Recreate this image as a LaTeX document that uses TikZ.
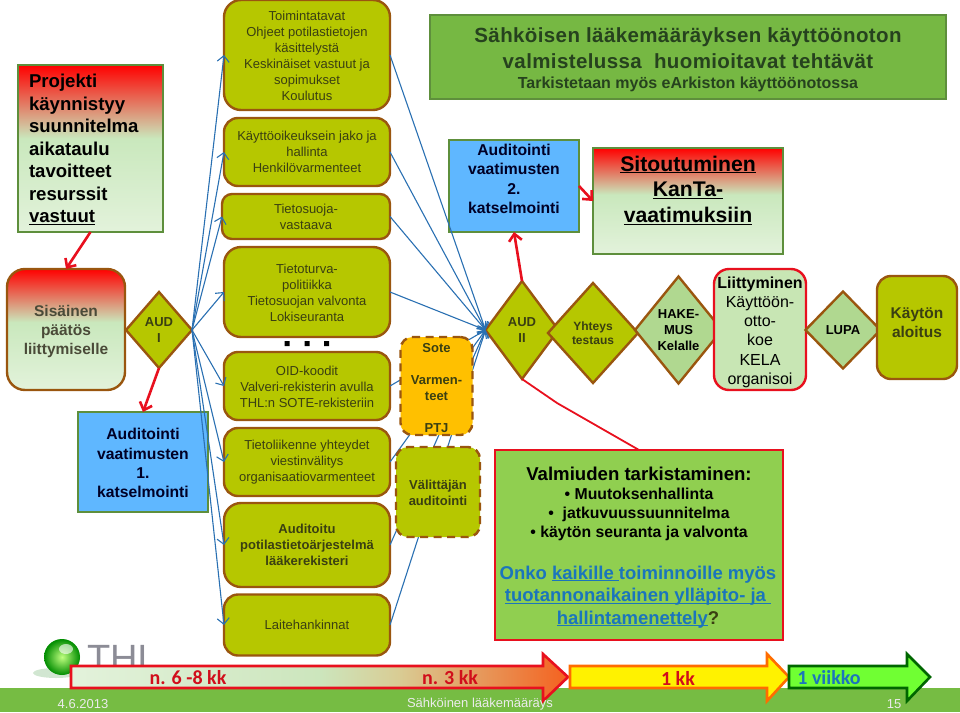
\documentclass[tikz,border=0pt]{standalone}
\usepackage{fontspec}
\setmainfont{Liberation Sans}
\newfontfamily\barfont{Carlito}
\newfontfamily\spaced[LetterSpace=1.9]{Liberation Sans}
\usetikzlibrary{shapes.geometric,arrows.meta}
\definecolor{olivef}{HTML}{B6C700}
\definecolor{brownb}{HTML}{9A560F}
\definecolor{greenb}{HTML}{5E8F3C}
\definecolor{bluef}{HTML}{5FB7FF}
\definecolor{topf}{HTML}{76B843}
\definecolor{linkb}{HTML}{2A70B2}
\definecolor{redl}{HTML}{E8101E}
\definecolor{darkt}{HTML}{3A3F12}
\definecolor{sist}{HTML}{4A4A38}
\definecolor{toptxt}{HTML}{26421E}
\definecolor{diag}{HTML}{B0D890}
\definecolor{liif}{HTML}{C8E6B4}
\definecolor{foot}{HTML}{76BC43}
\definecolor{valm}{HTML}{90CF50}
\definecolor{bluet}{HTML}{1B75BC}
\definecolor{sotef}{HTML}{FFC000}
\definecolor{thig}{HTML}{8C8C96}
\pgfdeclareverticalshading{redgreen}{100bp}{rgb(0bp)=(0.89,0.95,0.86); rgb(25bp)=(0.89,0.95,0.86); rgb(53bp)=(0.79,0.91,0.74); rgb(75bp)=(1,0,0); rgb(100bp)=(1,0,0)}
\pgfdeclarehorizontalshading{barshade}{100bp}{rgb(0bp)=(0.89,0.95,0.86); rgb(25bp)=(0.89,0.95,0.86); rgb(50bp)=(0.80,0.90,0.74); rgb(58bp)=(0.85,0.80,0.58); rgb(75bp)=(0.96,0.38,0.12); rgb(100bp)=(0.96,0.38,0.12)}
\newcommand\ulx[1]{\leavevmode\setbox0\hbox{#1}\rlap{\rule[-2.2pt]{\wd0}{1pt}}\box0}
\newcommand\fs[2]{\fontsize{#1}{#2}\selectfont}
\tikzset{
  x=1pt,y=-1pt,
  boxn/.style={inner sep=0pt,outer sep=0pt,align=center,anchor=center},
  olivebox/.style={boxn,rectangle,rounded corners=14pt,draw=brownb,line width=2.4pt,fill=olivef,text=darkt,font=\fs{13}{16}},
  blueb/.style={boxn,rectangle,draw=greenb,line width=2.4pt,fill=bluef,text=black!85!blue,font=\fs{15.7}{19.3}\bfseries},
  gradb/.style={boxn,rectangle,draw=greenb,line width=2.4pt,shade,shading=redgreen},
  dashb/.style={olivebox,dash pattern=on 8pt off 5.5pt,rounded corners=12pt,font=\fs{13}{16}\bfseries},
  dia/.style={boxn,diamond,aspect=1,draw=brownb,line width=2.4pt,fill=olivef},
  dtext/.style={align=center,inner sep=0pt,text=darkt,font=\fs{13}{16}\bfseries},
  link/.style={draw=linkb,line width=1.1pt,-{Straight Barb[length=6pt,width=12pt]}},
  redarrow/.style={draw=redl,line width=2.6pt,-{Straight Barb[length=7pt,width=13pt]}},
  barlabel/.style={inner sep=0pt,font=\barfont\fs{20}{22}\bfseries}
}
\begin{document}
\begin{tikzpicture}
\useasboundingbox (0,0) rectangle (960,712);
% footer and logo
\fill[foot] (0,688) rectangle (960,712);
\fill[green!45!black!18!white] (56,673) ellipse [x radius=23pt,y radius=5pt];
\shade[inner color=green!50!yellow!50!white,outer color=green!55!black] (62,657) circle [radius=18pt];
\fill[white,opacity=.6] (66,649) ellipse [x radius=7pt,y radius=5pt];
\node[inner sep=0pt,anchor=base west,text=thig,font=\fs{38}{40}] (thi) at (87,671) {THI};
% left column
\node[gradb,minimum width=145pt,minimum height=167pt,text=black,font=\fs{18.6}{22.5}\bfseries,text width=123pt,align=left] (proj) at (90.5,148.5) {\rule{0pt}{16pt}Projekti\\käynnistyy\\suunnitelma\\aikataulu\\tavoitteet\\resurssit\\\ulx{vastuut}};
\node[gradb,rounded corners=18pt,draw=brownb,minimum width=118pt,minimum height=121pt,text=sist,font=\fs{15.5}{19.3}\bfseries] (sis) at (66,329.5) {\rule{0pt}{15.5pt}Sisäinen\\päätös\\liittymiselle};
\node[dia,minimum width=66pt,minimum height=76pt,label={[dtext]center:AUD\\I}] (aud1) at (159,330) {};
\node[blueb,minimum width=130pt,minimum height=100pt] (kat1) at (143,462) {\rule{0pt}{13.5pt}Auditointi\\vaatimusten\\1.\\katselmointi};
% olive column
\node[olivebox,rounded corners=17pt,minimum width=166pt,minimum height=110pt] (b1) at (307,55) {\rule{0pt}{11.5pt}Toimintatavat\\Ohjeet potilastietojen\\käsittelystä\\Keskinäiset vastuut ja\\sopimukset\\Koulutus};
\node[olivebox,minimum width=166pt,minimum height=68pt] (b2) at (307,152) {Käyttöoikeuksein jako ja\\hallinta\\Henkilövarmenteet};
\node[olivebox,rounded corners=10pt,minimum width=168pt,minimum height=45pt] (b3) at (306,216.5) {Tietosuoja-\\vastaava};
\node[olivebox,rounded corners=17pt,minimum width=166pt,minimum height=90pt] (b4) at (307,292) {\rule{0pt}{11.5pt}Tietoturva-\\politiikka\\Tietosuojan valvonta\\Lokiseuranta};
\node[olivebox,minimum width=166pt,minimum height=68pt] (b5) at (307,386) {\rule{0pt}{11.5pt}OID-koodit\\Valveri-rekisterin avulla\\THL:n SOTE-rekisteriin};
\node[olivebox,minimum width=166pt,minimum height=68pt] (b6) at (307,462) {Tietoliikenne yhteydet\\viestinvälitys\\organisaatiovarmenteet};
\node[olivebox,rounded corners=17pt,minimum width=166pt,minimum height=84pt,font=\fs{13}{16}\bfseries] (b7) at (307,545) {Auditoitu\\potilastietoärjestelmä\\lääkerekisteri};
\node[olivebox,minimum width=166pt,minimum height=61pt] (b8) at (307,625) {Laitehankinnat};
\fill[black] (284.5,341) rectangle +(5,5) (304.5,341) rectangle +(5,5) (324,341) rectangle +(5,5);
% top right
\node[boxn,rectangle,draw=greenb,line width=2.4pt,fill=topf,minimum width=516pt,minimum height=84pt] (top) at (688,57) {};
\node[boxn,text=toptxt,font=\spaced\fs{20.5}{25.5}\bfseries] (topa) at (688,48) {Sähköisen lääkemääräyksen käyttöönoton\\valmistelussa\ \ huomioitavat tehtävät};
\node[boxn,text=toptxt,font=\fs{16}{20}\bfseries] (topb) at (688,84.5) {Tarkistetaan myös eArkiston käyttöönotossa};
\node[blueb,minimum width=130pt,minimum height=92pt] (kat2) at (514,186) {Auditointi\\vaatimusten\\2.\\katselmointi\\[-5pt]};
\node[gradb,minimum width=190pt,minimum height=106pt,text=black,font=\fs{21.2}{25.7}\bfseries] (sit) at (688,201) {\ulx{Sitoutuminen}\\\ulx{KanTa-}\\\ulx{vaatimuksiin}\\[-2pt]};
% process row
\node[dia,minimum width=73pt,minimum height=98pt,label={[dtext]center:AUD\\II}] (aud2) at (522,330) {};
\node[dia,minimum width=90pt,minimum height=100pt,label={[dtext,font=\fs{12}{14.5}\bfseries]center:Yhteys\\testaus}] (yht) at (593,333) {};
\node[dia,fill=diag,minimum width=87pt,minimum height=107pt,label={[dtext,text=black]center:HAKE-\\MUS\\Kelalle}] (hak) at (678.5,330) {};
\node[boxn,rectangle,rounded corners=15pt,draw=redl,line width=2.4pt,fill=liif,minimum width=92pt,minimum height=121pt,font=\fs{16}{19.3}] (lii) at (760,329.5) {\rule{0pt}{17pt}\textbf{Liittyminen}\\Käyttöön-\\otto-\\koe\\KELA\\organisoi};
\node[dia,fill=diag,minimum width=75pt,minimum height=77pt,label={[dtext,text=black]center:LUPA}] (lup) at (843,330) {};
\node[olivebox,font=\fs{15.5}{19.3}\bfseries,minimum width=80pt,minimum height=103pt] (kay) at (917,327.5) {Käytön\\aloitus\\[-10pt]};
% valmiuden
\node[boxn,rectangle,draw=redl,line width=2.4pt,fill=valm,minimum width=288pt,minimum height=190pt] (val) at (639,545) {};
\node[boxn,text=black,font=\fs{18.6}{22}\bfseries] (valh) at (639,474) {Valmiuden tarkistaminen:};
\node[boxn,text=black,font=\fs{15.8}{19.3}\bfseries] (valt) at (639,514.5) {• Muutoksenhallinta\\•\ \ jatkuvuussuunnitelma\\• käytön seuranta ja valvonta};
\node[boxn,text=bluet,font=\fs{18.5}{22.5}\bfseries] (valb) at (638,597) {Onko \ulx{kaikille\ }toiminnoille myös\\\ulx{tuotannonaikainen ylläpito- ja\ }\\\ulx{hallintamenettely}\textcolor{darkt}{?}};
% connectors
\foreach \t in {b1,b2,b3,b4,b5,b6,b7,b8}{
  \draw[link] (aud1.east) -- (\t.west);
  \draw[link] (\t.east) -- (aud2.west);
}
\node[dashb,fill=sotef,minimum width=72pt,minimum height=98pt] (sot) at (436.5,386) {\rule{0pt}{13.5pt}Sote\\ \\Varmen-\\teet\\ \\PTJ};
\node[dashb,minimum width=84pt,minimum height=90pt] (vli) at (438,492) {\rule{0pt}{11.5pt}Välittäjän\\auditointi};
\draw[redarrow] (proj.south) -- (sis.north);
\draw[redarrow] (aud1.south) -- (kat1.north);
\draw[redarrow] (aud2.north) -- (kat2.south);
\draw[redarrow] (kat2.east) -- (sit.west);
\coordinate (bend) at (557,403);
\draw[draw=redl,line width=1.8pt] (aud2.south) -- (bend) -- (val.north);
% time bar arrows
\path[draw=redl,line width=2.6pt,shade,shading=barshade] (71,666) -- (543,666) -- (543,654) -- (568,677) -- (543,701) -- (543,688) -- (71,688) -- cycle;
\node[barlabel,text=redl!90!black] (t1) at (188,677.5) {n. 6 -8 kk};
\node[barlabel,text=redl!90!black] (t2) at (450,677.5) {n. 3 kk};
\path[draw=orange!85!red,line width=2.6pt,fill=yellow] (570,666) -- (767,666) -- (767,654) -- (789,677) -- (767,701) -- (767,688) -- (570,688) -- cycle;
\node[barlabel,text=redl!90!black] (t3) at (678,678) {1 kk};
\path[draw=green!40!black,line width=2.6pt,fill=green!70!yellow!80!white] (789,666) -- (907,666) -- (907,654) -- (930,677) -- (907,701) -- (907,688) -- (789,688) -- cycle;
\node[barlabel,text=bluet] (t4) at (829,678) {1 viikko};
% footer texts
\node[inner sep=0pt,text=white!92!black,font=\fs{13}{15}] (f1) at (83,704) {4.6.2013};
\node[inner sep=0pt,text=white!92!black,font=\fs{13}{15}] (f2) at (480,704) {Sähköinen lääkemääräys};
\node[inner sep=0pt,text=white!92!black,font=\fs{13}{15}] (f3) at (894,704) {15};
\end{tikzpicture}
\end{document}
